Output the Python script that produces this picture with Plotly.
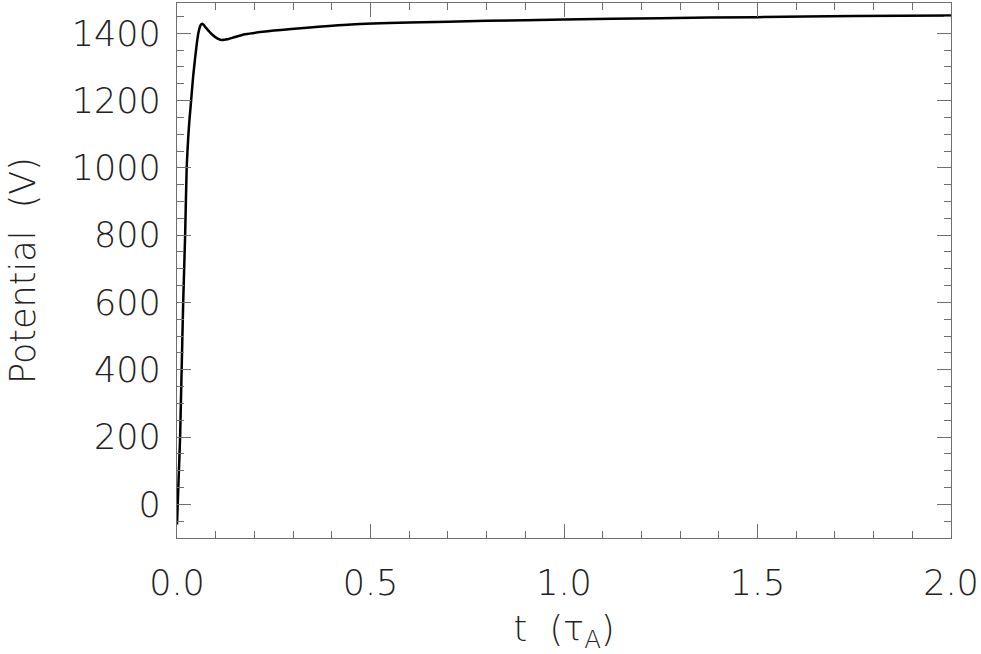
import plotly.graph_objects as go

# time in Alfven times, potential in volts
t_tau = [0.0, 0.004, 0.008, 0.012, 0.016, 0.021, 0.025, 0.029, 0.032, 0.035, 0.042,
         0.051, 0.056, 0.060, 0.064, 0.068, 0.075, 0.090, 0.105, 0.115, 0.130,
         0.150, 0.176, 0.250, 0.320, 0.450, 0.600, 0.800, 1.000, 1.250, 1.500,
         1.750, 2.000]
potential = [-60, 70, 200, 400, 600, 800, 1000, 1090, 1140, 1180, 1275,
             1368, 1405, 1422, 1428, 1426, 1416, 1397, 1384, 1380, 1382,
             1389, 1397, 1408, 1415, 1426, 1432, 1437, 1441, 1445, 1448,
             1451, 1453]

x_range = [0, 2.0]
y_range = [-100, 1490]

FONT = dict(family="DejaVu Sans", size=35, color="#222222", weight=200)
AXIS_COLOR = "#6e6e6e"

fig = go.Figure()
fig.add_trace(
    go.Scatter(
        x=t_tau,
        y=potential,
        mode="lines",
        line=dict(color="black", width=2.5, shape="spline", smoothing=0.5),
        showlegend=False,
        hoverinfo="skip",
    )
)

axis_common = dict(
    showgrid=False,
    zeroline=False,
    showline=True,
    linecolor=AXIS_COLOR,
    linewidth=1.2,
    mirror="allticks",
    ticks="inside",
    tickcolor=AXIS_COLOR,
    ticklen=14,
    tickwidth=1,
    tickfont=FONT,
)

fig.update_xaxes(
    axis_common,
    range=x_range,
    tick0=0,
    dtick=0.5,
    tickformat=".1f",
    ticklabelstandoff=14,
    minor=dict(ticks="inside", dtick=0.1, ticklen=7, tickcolor=AXIS_COLOR),
    title=dict(text="t  (τ<sub>A</sub>)", font=FONT, standoff=14),
)
fig.update_yaxes(
    axis_common,
    range=y_range,
    tick0=0,
    dtick=200,
    ticklabelstandoff=8,
    minor=dict(ticks="inside", dtick=50, ticklen=7, tickcolor=AXIS_COLOR),
    title=dict(text="Potential  (V)", font=FONT, standoff=25),
)

fig.update_layout(
    width=981,
    height=654,
    margin=dict(l=177, r=30, t=3, b=116, autoexpand=False),
    plot_bgcolor="white",
    paper_bgcolor="white",
)

# drop the page's default body margin so the plot sits at the window corner
fig.write_html(
    "out.html",
    config={"displayModeBar": False},
    post_script="document.body.style.margin = '0';",
)
